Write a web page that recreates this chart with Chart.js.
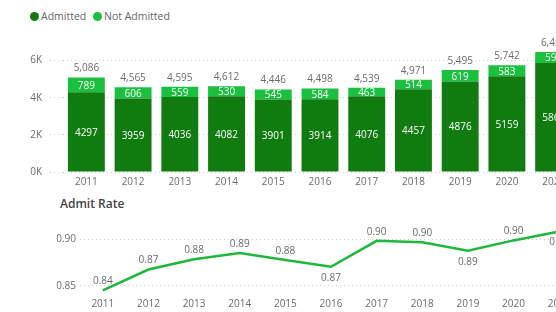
<!DOCTYPE html>
<html>
<head>
<meta charset="utf-8">
<script src="https://cdn.jsdelivr.net/npm/chart.js@4.4.1/dist/chart.umd.min.js"></script>
<style>
    body {
        margin: 0;
        width: 556px;
        height: 312px;
        overflow: hidden;
        background: #fff;
        position: relative;
        font-family: "Open Sans", "Noto Sans", sans-serif;
    }
    .legend {
        position: absolute;
        left: 30px;
        top: 9px;
        font-size: 10.5px;
        color: #666;
        white-space: nowrap;
    }
    .legend span.dot {
        display: inline-block;
        width: 9px;
        height: 9px;
        border-radius: 50%;
        margin-right: 2px;
        vertical-align: -1px;
    }
    .legend span.item { margin-right: 4px; }
    .title {
        position: absolute;
        left: 60px;
        top: 195px;
        font-size: 12px;
        font-weight: 600;
        color: #444;
    }
    #bar-wrap { position: absolute; left: 0; top: 0; }
    #line-wrap { position: absolute; left: 0; top: 190px; }
</style>
</head>
<body>
<div class="legend">
    <span class="item"><span class="dot" style="background:#107C10"></span>Admitted</span>
    <span class="item"><span class="dot" style="background:#1AC03E"></span>Not Admitted</span>
</div>
<div id="bar-wrap"><canvas id="bar-chart" width="577" height="190"></canvas></div>
<div class="title">Admit Rate</div>
<div id="line-wrap"><canvas id="line-chart" width="582" height="122"></canvas></div>

<script>
// chart data
const years = ['2011', '2012', '2013', '2014', '2015', '2016', '2017', '2018', '2019', '2020', '2021'];
const admitted = [4297, 3959, 4036, 4082, 3901, 3914, 4076, 4457, 4876, 5159, 5866];
const notAdmitted = [789, 606, 559, 530, 545, 584, 463, 514, 619, 583, 592];
const admitRate = [0.8449, 0.8673, 0.8783, 0.8851, 0.8774, 0.8702, 0.8980, 0.8966, 0.8874, 0.8985, 0.9080];
const barTicks = [0, 2000, 4000, 6000];
const rateTicks = [0.85, 0.90];
// which rate labels sit under the line
const rateLabelBelow = [false, false, false, false, false, true, false, false, true, false, true];

const DARK_GREEN = '#107C10';
const LIGHT_GREEN = '#1AC03E';
const LINE_GREEN = '#1DB83C';
const GREY = '#6b6b6b';
const GRID = '#cfcfcf';

Chart.defaults.font.family = '"Open Sans", "Noto Sans", sans-serif';
Chart.defaults.color = GREY;

/**
 * Draws segment values inside the bars and totals on top
 */
const barLabels = {
    id: 'barLabels',
    afterDatasetsDraw(chart) {
        const ctx = chart.ctx;
        ctx.save();
        ctx.textAlign = 'center';
        ctx.textBaseline = 'middle';

        chart.data.datasets.forEach((ds, i) => {
            const meta = chart.getDatasetMeta(i);
            ctx.fillStyle = '#fff';
            ctx.font = '10px "Open Sans", sans-serif';
            meta.data.forEach((bar, j) => {
                ctx.fillText(String(ds.data[j]), bar.x, (bar.y + bar.base) / 2 + 1);
            });
        });

        // totals above the stack
        const top = chart.getDatasetMeta(1);
        ctx.fillStyle = GREY;
        ctx.font = '10px "Open Sans", sans-serif';
        top.data.forEach((bar, j) => {
            const total = admitted[j] + notAdmitted[j];
            ctx.fillText(total.toLocaleString('en-US'), bar.x, bar.y - 9);
        });
        ctx.restore();
    }
};

/**
 * Draws the rate values next to the line points
 */
const rateLabels = {
    id: 'rateLabels',
    afterDatasetsDraw(chart) {
        const ctx = chart.ctx;
        ctx.save();
        ctx.textAlign = 'center';
        ctx.textBaseline = 'middle';
        ctx.fillStyle = GREY;
        ctx.font = '10px "Open Sans", sans-serif';
        chart.getDatasetMeta(0).data.forEach((pt, j) => {
            const dy = rateLabelBelow[j] ? 11 : -9;
            ctx.fillText(admitRate[j].toFixed(2), pt.x, pt.y + dy);
        });
        ctx.restore();
    }
};

function createBarChart() {
    const ctx = document.getElementById('bar-chart').getContext('2d');

    new Chart(ctx, {
        type: 'bar',
        data: {
            labels: years,
            datasets: [{
                label: 'Admitted',
                data: admitted,
                backgroundColor: DARK_GREEN,
                barPercentage: 0.79,
                categoryPercentage: 1
            }, {
                label: 'Not Admitted',
                data: notAdmitted,
                backgroundColor: LIGHT_GREEN,
                barPercentage: 0.79,
                categoryPercentage: 1
            }]
        },
        options: {
            responsive: false,
            animation: false,
            layout: { padding: { top: 42, left: 0, right: 0, bottom: 0 } },
            plugins: {
                legend: { display: false },
                tooltip: { enabled: false }
            },
            scales: {
                x: {
                    stacked: true,
                    grid: { display: false, drawTicks: false },
                    border: { display: false },
                    ticks: { padding: 4, font: { size: 10 }, color: GREY },
                    afterFit(scale) { scale.height = 18; }
                },
                y: {
                    stacked: true,
                    min: 0,
                    max: 7000,
                    border: { display: false, dash: [1, 3] },
                    grid: {
                        color: GRID,
                        tickBorderDash: [1, 3],
                        tickColor: GRID,
                        tickLength: 13
                    },
                    afterBuildTicks(scale) {
                        scale.ticks = barTicks.map(v => ({ value: v }));
                    },
                    ticks: {
                        padding: 8,
                        font: { size: 10 },
                        color: GREY,
                        callback: v => (v / 1000) + 'K'
                    },
                    afterFit(scale) { scale.width = 63; }
                }
            }
        },
        plugins: [barLabels]
    });
}

function createLineChart() {
    const ctx = document.getElementById('line-chart').getContext('2d');

    new Chart(ctx, {
        type: 'line',
        data: {
            labels: years,
            datasets: [{
                label: 'Admit Rate',
                data: admitRate,
                borderColor: LINE_GREEN,
                borderWidth: 2.5,
                pointRadius: 0,
                tension: 0
            }]
        },
        options: {
            responsive: false,
            animation: false,
            layout: { padding: { top: 35, left: 0, right: 0, bottom: 0 } },
            plugins: {
                legend: { display: false },
                tooltip: { enabled: false }
            },
            scales: {
                x: {
                    offset: true,
                    grid: { display: false, drawTicks: false },
                    border: { display: false },
                    ticks: { padding: 3, font: { size: 10 }, color: GREY },
                    afterFit(scale) { scale.height = 17; }
                },
                y: {
                    min: 0.84,
                    max: 0.915,
                    border: { display: false, dash: [1, 3] },
                    grid: {
                        color: GRID,
                        drawTicks: false
                    },
                    afterBuildTicks(scale) {
                        scale.ticks = rateTicks.map(v => ({ value: v }));
                    },
                    ticks: {
                        padding: 4,
                        font: { size: 10 },
                        color: GREY,
                        callback: v => v.toFixed(2)
                    },
                    afterFit(scale) { scale.width = 80; }
                }
            }
        },
        plugins: [rateLabels]
    });
}

createBarChart();
createLineChart();
</script>
</body>
</html>
